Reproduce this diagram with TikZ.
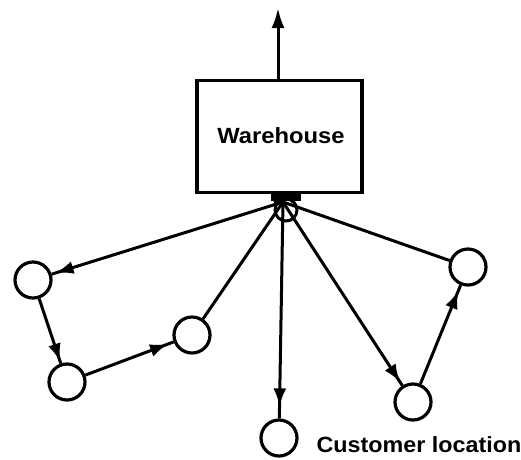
\documentclass[tikz,border=0pt]{standalone}
\usepackage{fontspec}
\setmainfont{Liberation Sans}
\usetikzlibrary{arrows.meta,decorations.markings}
\begin{document}
\begin{tikzpicture}[x=1pt,y=-1pt,
  line width=3pt,
  cust/.style={draw,circle,minimum size=36pt,inner sep=0pt,line width=3.2pt},
  lbl/.style={font=\fontsize{22}{24}\selectfont\bfseries,inner sep=0pt},
  arrowat/.style={postaction={decorate},decoration={markings,
     mark=at position #1 with {\arrow{Latex[length=18pt,width=13pt]}}}},
  conn/.style={line width=3pt}]
\useasboundingbox (0,0) rectangle (521,459);
% warehouse
\node[draw,line width=3.2pt,minimum width=165pt,minimum height=112pt,inner sep=0pt] (wh) at (279.5,136.5) {};
\node[lbl,xscale=1.08] (whl) at (281,136) {Warehouse};
\coordinate (top) at (278,8);
\draw[conn,-{Latex[length=20pt,width=13pt]}] (wh.north -| top) -- (top);
% hub
\coordinate (hub) at (283,202);
\node[draw,circle,minimum size=22pt,inner sep=0pt,line width=3pt] (hubc) at (286,210) {};
\fill (271,191) rectangle (301,201);
\fill (278,200) circle (5pt);
% customers
\node[cust] (c1) at (33,280) {};
\node[cust] (c2) at (67,382) {};
\node[cust] (c3) at (192,335) {};
\node[cust] (c4) at (279,438) {};
\node[cust] (c5) at (413,402) {};
\node[cust] (c6) at (468,267) {};
% connectors
\draw[conn,arrowat=-4pt] (hub) -- (c1);
\draw[conn,arrowat=-2pt] (c1) -- (c2);
\draw[conn,arrowat=-6pt] (c2) -- (c3);
\draw[conn] (c3) -- (hub);
\draw[conn,arrowat=-12pt] (hub) -- (c4);
\draw[conn,arrowat=-4pt] (hub) -- (c5);
\draw[conn,arrowat=-6pt] (c5) -- (c6);
\draw[conn] (c6) -- (hub);
% label
\node[lbl,anchor=west,xscale=1.06] (cl) at (315,445) {Customer location};
\end{tikzpicture}
\end{document}
